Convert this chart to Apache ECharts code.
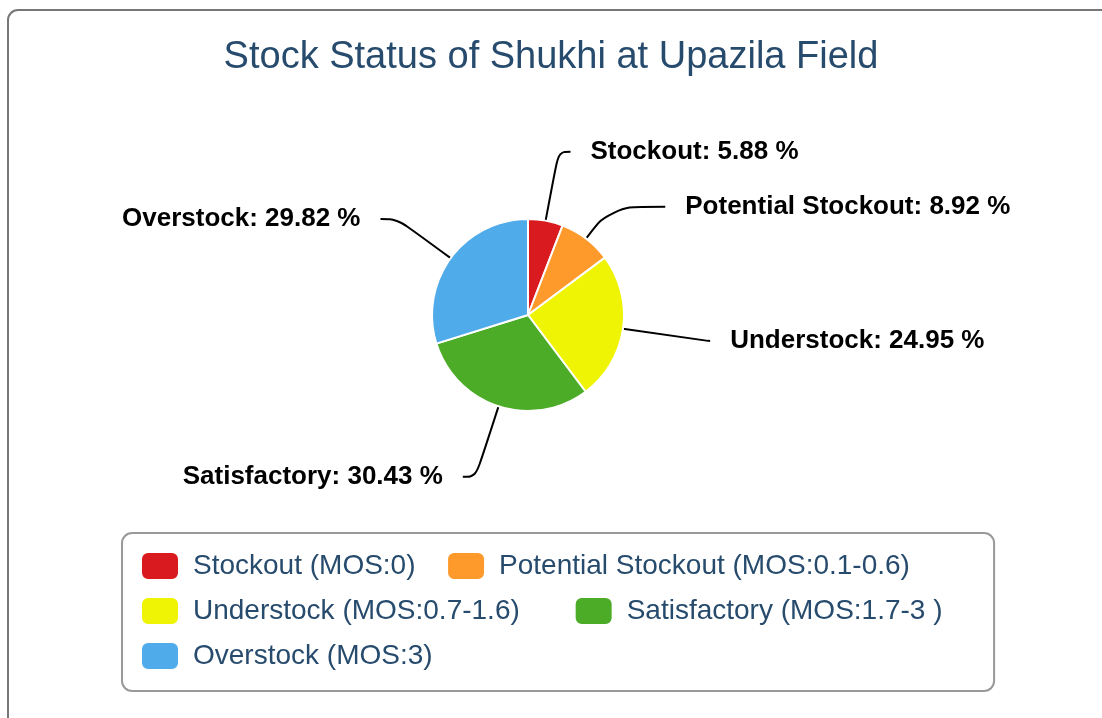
<!DOCTYPE html>
<html lang="en">
<head>
<meta charset="UTF-8">
<title>Stock Status</title>
<script src="https://cdn.jsdelivr.net/npm/echarts@6/dist/echarts.min.js"></script>
<style>
  html, body { margin: 0; padding: 0; background: #fff; overflow: hidden; }
  #frame { position: absolute; left: 7px; top: 9px; width: 1120px; height: 740px;
           border: 2px solid #777; border-radius: 11px; box-sizing: border-box; pointer-events: none; }
  #main { position: absolute; left: 0; top: 0; width: 1102px; height: 718px; }
</style>
</head>
<body>
<div id="main"></div>
<div id="frame"></div>
<script>
// chart data
var names = ['Stockout', 'Potential Stockout', 'Understock', 'Satisfactory', 'Overstock'];
var legendNames = ['Stockout (MOS:0)', 'Potential Stockout (MOS:0.1-0.6)', 'Understock (MOS:0.7-1.6)', 'Satisfactory (MOS:1.7-3 )', 'Overstock (MOS:3)'];
var values = [5.88, 8.92, 24.95, 30.43, 29.82];
var colors = ['#d91b1f', '#fe9a2b', '#eff404', '#4cac27', '#50abea'];

// leader line lengths per slice (first segment, second segment)
var lineLen = [[70, 12], [40, 55], [86, 2], [74, 13], [66, 17]];

var font = '"Liberation Sans", Arial, sans-serif';

var pieData = [];
for (var i = 0; i < values.length; i++) {
    pieData.push({
        name: legendNames[i],
        value: values[i],
        short: names[i],
        itemStyle: { color: colors[i] },
        labelLine: { length: lineLen[i][0], length2: lineLen[i][1] }
    });
}

var chart = echarts.init(document.getElementById('main'));
chart.setOption({
    animation: false,
    title: {
        text: 'Stock Status of Shukhi at Upazila Field',
        left: 'center',
        top: 34,
        textStyle: { color: '#274b6d', fontSize: 38, fontWeight: 'normal', fontFamily: font }
    },
    legend: {
        data: legendNames,
        left: 122,
        top: 533,
        width: 840,
        orient: 'horizontal',
        icon: 'roundRect',
        itemWidth: 38,
        itemHeight: 28,
        itemGap: 15,
        padding: [18, 36, 20, 18],
        borderColor: '#999',
        borderWidth: 2,
        borderRadius: 10,
        // trailing spaces widen the gap between items on a row
        formatter: function (name) {
            return name + (name === legendNames[2] ? '     ' : '  ');
        },
        textStyle: { color: '#274b6d', fontSize: 28, fontFamily: font, padding: [0, 0, 0, 9] }
    },
    series: [{
        type: 'pie',
        center: [528, 315],
        radius: 96,
        startAngle: 90,
        clockwise: true,
        avoidLabelOverlap: false,
        itemStyle: { borderColor: '#fff', borderWidth: 2 },
        label: {
            color: '#000',
            fontSize: 26,
            fontWeight: 'bold',
            fontFamily: font,
            distanceToLabelLine: 20,
            formatter: function (p) { return p.data.short + ': ' + p.value.toFixed(2) + ' %'; }
        },
        labelLine: { smooth: 0.4, lineStyle: { color: '#000', width: 2 } },
        emphasis: { disabled: true },
        data: pieData
    }]
});
</script>
</body>
</html>
